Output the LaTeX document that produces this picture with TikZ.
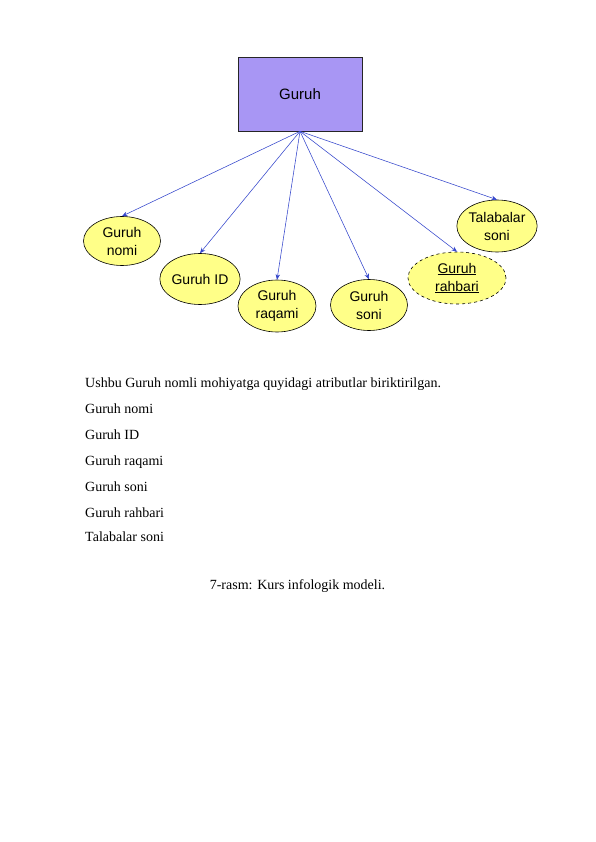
\documentclass[tikz,border=0pt]{standalone}
\usepackage{fontspec}
\setmainfont{Liberation Serif}
\newfontfamily\diagfont{Liberation Sans}
\usetikzlibrary{shapes.geometric,arrows.meta}
\definecolor{boxfill}{RGB}{168,150,244}
\definecolor{ellfill}{RGB}{255,255,136}
\definecolor{arrblue}{RGB}{52,70,204}
\tikzset{
  entity/.style={draw=black!85, line width=0.6pt, fill=boxfill, minimum width=124pt, minimum height=74pt, inner sep=0pt, font=\diagfont\fontsize{15}{17}\selectfont},
  attr/.style={ellipse, draw=black, line width=0.6pt, fill=ellfill, inner sep=0pt, align=center, font=\diagfont\fontsize{14}{18}\selectfont},
  link/.style={draw=arrblue, line width=0.55pt, -{Stealth[length=5.5pt,width=4.5pt]}},
  bodytext/.style={anchor=base west, inner sep=0pt, font=\fontsize{14}{16}\selectfont},
}
\begin{document}
\begin{tikzpicture}[x=1pt,y=-1pt]
\useasboundingbox[fill=white] (0,0) rectangle (595,842);
\node[entity] (g) at (300,94) {Guruh};
\node[attr, minimum width=77pt, minimum height=49pt] (nomi) at (122,241) {Guruh\\nomi};
\node[attr, minimum width=77pt, minimum height=51pt] (id) at (200,279) {Guruh ID};
\node[attr, minimum width=78pt, minimum height=52pt] (raqami) at (277,306) {Guruh\\raqami};
\node[attr, minimum width=77pt, minimum height=51pt] (soni) at (369,305) {Guruh\\soni};
\node[attr, dashed, minimum width=98pt, minimum height=52pt] (rahbari) at (457,278) {\underline{Guruh}\\\underline{rahbari}};
\node[attr, minimum width=78pt, minimum height=52pt] (talabalar) at (497,226) {Talabalar\\soni};
\foreach \t in {nomi,id,raqami,soni,rahbari,talabalar}
  \draw[link] (g.south) -- (\t.north);
\node[bodytext] (t1) at (85,387) {Ushbu Guruh nomli mohiyatga quyidagi atributlar biriktirilgan.};
\node[bodytext] (t2) at (85,413) {Guruh nomi};
\node[bodytext] (t3) at (85,439) {Guruh ID};
\node[bodytext] (t4) at (85,465) {Guruh raqami};
\node[bodytext] (t5) at (85,491) {Guruh soni};
\node[bodytext] (t6) at (85,517) {Guruh rahbari};
\node[bodytext] (t7) at (85,541) {Talabalar soni};
\node[anchor=base, inner sep=0pt, font=\fontsize{14}{16}\selectfont] (cap) at (297.5,589) {7-rasm: Kurs infologik modeli.};
\end{tikzpicture}
\end{document}
